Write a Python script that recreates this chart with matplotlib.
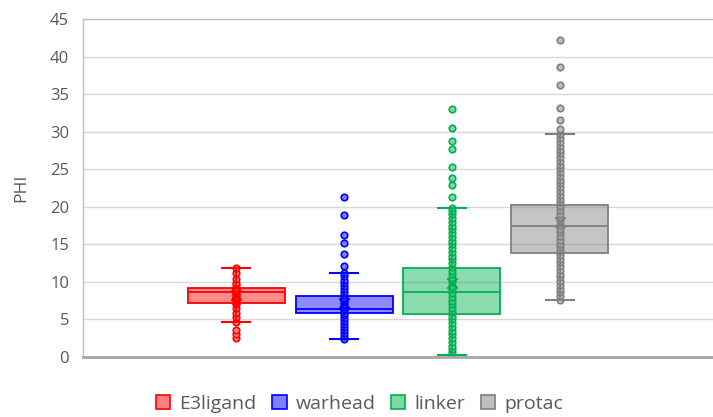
import matplotlib
matplotlib.use("Agg")
import matplotlib.pyplot as plt
from matplotlib.patches import Patch

plt.rcParams['font.family'] = ['Open Sans', 'DejaVu Sans']

categories = ["E3ligand", "warhead", "linker", "protac"]
edge_colors = ["#FF0000", "#0000FF", "#00B050", "#7F7F7F"]
fill_colors = ["#FF8080", "#8080FF", "#80D8A8", "#BFBFBF"]

q1 = [7.15, 5.9, 5.7, 13.9]
median = [8.6, 6.45, 8.6, 17.45]
q3 = [9.2, 8.15, 11.8, 20.2]
whisker_low = [4.7, 2.4, 0.2, 7.6]
whisker_high = [11.9, 11.2, 19.9, 29.7]
means = [8.25, 7.15, 9.9, 18.0]

e3_points = [2.5, 3.1, 3.6, 4.7, 5.3, 5.9, 6.5, 7.0, 7.2, 7.4, 7.6, 7.8, 8.0, 8.2,
             8.4, 8.6, 8.8, 9.0, 9.2, 9.6, 9.8, 10.4, 11.2, 11.9]
warhead_points = [2.4, 2.8, 3.2, 3.6, 4.0, 4.4, 4.8, 5.2, 5.6, 5.9, 6.2, 6.4, 6.7, 7.0,
                  7.3, 7.6, 7.9, 8.2, 8.6, 9.0, 9.4, 9.8, 10.3, 10.8, 11.2,
                  12.1, 13.7, 15.2, 16.2, 18.9, 21.3]
linker_points = [0.2, 0.6, 1.0, 1.5, 2.0, 2.5, 3.0, 3.5, 4.0, 4.5, 5.0, 5.5, 6.0, 6.5,
                 7.0, 7.5, 8.0, 8.5, 9.0, 9.5, 10.0, 10.5, 11.0, 11.5, 12.0, 12.5,
                 13.0, 13.5, 14.0, 14.5, 15.0, 15.5, 16.0, 16.5, 17.0, 17.5, 18.0,
                 18.5, 19.0, 19.5, 19.9,
                 21.3, 22.9, 23.8, 25.3, 27.7, 28.7, 30.5, 33.0]
protac_points = [7.6, 8.1, 8.6, 9.1, 9.6, 10.1, 10.6, 11.1, 11.6, 12.1, 12.6, 13.1,
                 13.6, 14.1, 14.6, 15.1, 15.6, 16.1, 16.6, 17.1, 17.6, 18.1, 18.6,
                 19.1, 19.6, 20.1, 20.6, 21.1, 21.6, 22.1, 22.6, 23.1, 23.6, 24.1,
                 24.6, 25.1, 25.6, 26.1, 26.6, 27.1, 27.6, 28.1, 28.6, 29.1, 29.7,
                 30.3, 31.6, 33.2, 36.2, 38.6, 42.2]
all_points = [e3_points, warhead_points, linker_points, protac_points]

yticks = [0, 5, 10, 15, 20, 25, 30, 35, 40, 45]

fig = plt.figure(figsize=(7.13, 4.17), dpi=100)
ax = fig.add_axes([0.1164, 0.1439, 0.8836, 0.8105])

positions = list(range(len(categories)))
for i in positions:
    ax.scatter([i] * len(all_points[i]), all_points[i], s=22, facecolor=fill_colors[i],
               edgecolor=edge_colors[i], linewidth=1.2, zorder=2)
    stats = [dict(med=median[i], q1=q1[i], q3=q3[i], whislo=whisker_low[i],
                  whishi=whisker_high[i], mean=means[i], fliers=[], label=categories[i])]
    bp = ax.bxp(stats, positions=[i], widths=0.9, patch_artist=True, showmeans=False,
                showfliers=False,
                boxprops=dict(facecolor=(0, 0, 0, 0), edgecolor=edge_colors[i],
                              linewidth=1.3),
                medianprops=dict(color=edge_colors[i], linewidth=1.3),
                whiskerprops=dict(color=edge_colors[i], linewidth=1.3),
                capprops=dict(color=edge_colors[i], linewidth=1.5), capwidths=0.26)
    for art in bp["boxes"]:
        art.set_facecolor(matplotlib.colors.to_rgba(edge_colors[i], 0.45))
        art.set_zorder(3)
    for art in bp["medians"]:
        art.set_zorder(4)
    ax.scatter([i], [means[i]], marker='x', s=55, color=edge_colors[i], linewidth=1.5, zorder=5)

ax.set_xlim(-1.42, 4.42)
ax.set_ylim(0, 45)
ax.set_yticks(yticks)
ax.set_xticks([])
ax.yaxis.grid(True, color="#D9D9D9", linewidth=1)
ax.set_axisbelow(True)
ax.tick_params(axis='y', length=0, labelsize=12, labelcolor="#595959", pad=10)
ax.set_ylabel("PHI", fontsize=12.5, color="#595959", labelpad=15)
for s in ["top", "left"]:
    ax.spines[s].set_color("#BFBFBF")
    ax.spines[s].set_linewidth(1)
ax.spines["right"].set_visible(False)
ax.spines["bottom"].set_color("#A6A6A6")
ax.spines["bottom"].set_linewidth(2)

handles = [Patch(facecolor=fill_colors[i], edgecolor=edge_colors[i], linewidth=1.2,
                 label=categories[i]) for i in positions]
fig.legend(handles=handles, loc="center", bbox_to_anchor=(0.504, 0.031), ncol=4,
           frameon=False, fontsize=14, handlelength=0.75, handleheight=0.75,
           handletextpad=0.45, columnspacing=0.8, labelcolor="#595959")

fig.savefig("out.png", dpi=100)
